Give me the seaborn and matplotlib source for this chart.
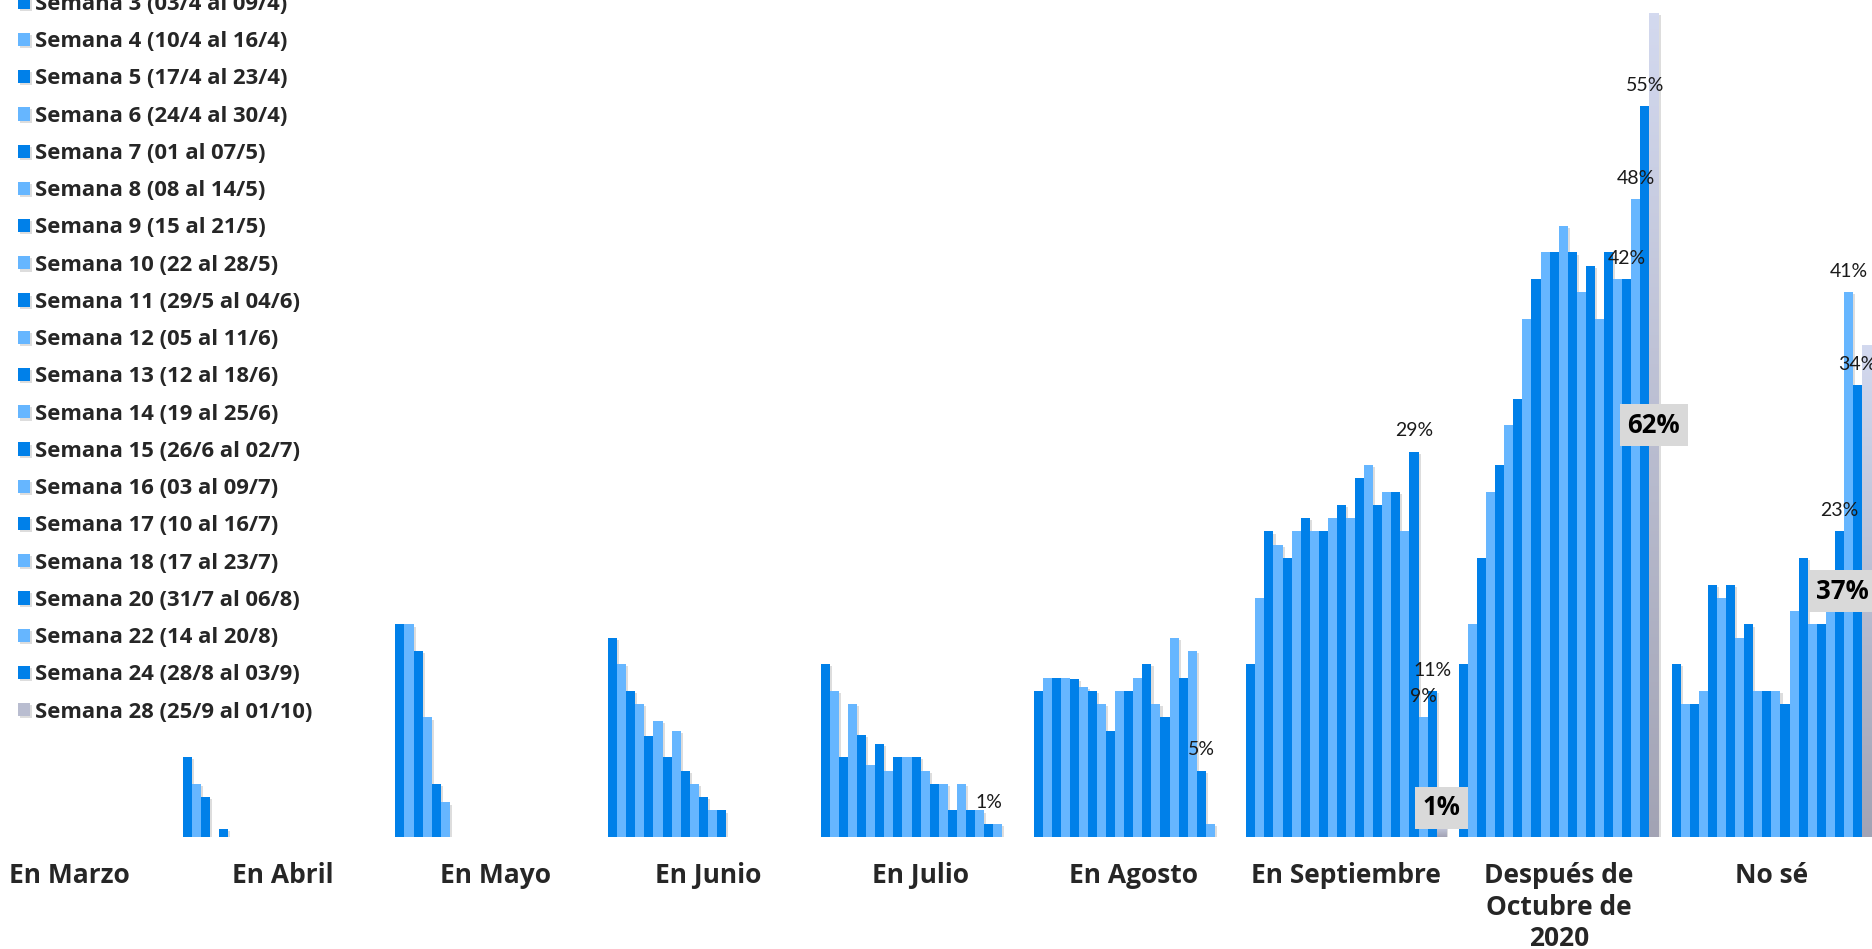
import numpy as np
import pandas as pd
import seaborn as sns
import matplotlib.pyplot as plt
import matplotlib.patheffects as pe
from matplotlib.colors import LinearSegmentedColormap

# Categorias (respuesta) y semanas de la encuesta
categorias = ["En Marzo", "En Abril", "En Mayo", "En Junio", "En Julio",
              "En Agosto", "En Septiembre", "Después de\nOctubre de\n2020", "No sé"]

semanas = ["Semana 1 (20/3 al 26/3)", "Semana 2 (27/3 al 02/4)", "Semana 3 (03/4 al 09/4)",
           "Semana 4 (10/4 al 16/4)", "Semana 5 (17/4 al 23/4)", "Semana 6 (24/4 al 30/4)",
           "Semana 7 (01 al 07/5)", "Semana 8 (08 al 14/5)", "Semana 9 (15 al 21/5)",
           "Semana 10 (22 al 28/5)", "Semana 11 (29/5 al 04/6)", "Semana 12 (05 al 11/6)",
           "Semana 13 (12 al 18/6)", "Semana 14 (19 al 25/6)", "Semana 15 (26/6 al 02/7)",
           "Semana 16 (03 al 09/7)", "Semana 17 (10 al 16/7)", "Semana 18 (17 al 23/7)",
           "Semana 20 (31/7 al 06/8)", "Semana 22 (14 al 20/8)", "Semana 24 (28/8 al 03/9)",
           "Semana 28 (25/9 al 01/10)"]

# valores (%) por categoria, una posicion por semana
en_marzo = [0, 0, 0, 0, 0, 0, 0, 0, 0, 0, 0, 0, 0, 0, 0, 0, 0, 0, 0, 0, 0, 0]
en_abril = [6, 4, 3, 0, 0.6, 0, 0, 0, 0, 0, 0, 0, 0, 0, 0, 0, 0, 0, 0, 0, 0, 0]
en_mayo = [16, 16, 14, 9, 4, 2.6, 0, 0, 0, 0, 0, 0, 0, 0, 0, 0, 0, 0, 0, 0, 0, 0]
en_junio = [15, 13, 11, 10, 7.6, 8.7, 6, 8, 5, 4, 3, 2, 2, 0, 0, 0, 0, 0, 0, 0, 0, 0]
en_julio = [13, 11, 6, 10, 7.7, 5.4, 7, 5, 6, 6, 6, 5, 4, 4, 2, 4, 2, 2, 1, 1, 0, 0]
en_agosto = [11, 12, 12, 12, 11.9, 11.3, 11, 10, 8, 11, 11, 12, 13, 10, 9, 15, 12, 14, 5, 1, 0, 0]
en_septiembre = [13, 18, 23, 22, 21, 23, 24, 23, 23, 24, 25, 24, 27, 28, 25, 26, 26, 23, 29, 9, 11, 1]
despues_octubre = [13, 16, 21, 26, 28, 31, 33, 39, 42, 44, 44, 46, 44, 41, 43, 39, 44, 42, 42, 48, 55, 62]
no_se = [13, 10, 10, 11, 19, 18, 19, 15, 16, 11, 11, 11, 10, 17, 21, 16, 16, 17, 23, 41, 34, 37]

# etiquetas que se muestran (indice de semana)
etiquetas_normales = {4: [18], 5: [18], 6: [18, 19, 20], 7: [18, 19, 20], 8: [18, 19, 20]}
etiquetas_destacadas = {6: [21], 7: [21], 8: [21]}

todos = [en_marzo, en_abril, en_mayo, en_junio, en_julio, en_agosto,
         en_septiembre, despues_octubre, no_se]
rows = []
for cat, vals in zip(categorias, todos):
    for sem, v in zip(semanas, vals):
        rows.append({"categoria": cat, "semana": sem, "valor": v})
df = pd.DataFrame(rows)

oscuro = "#0080E9"
claro = "#66B6FF"
gris = "#B9BDD0"
palette = [oscuro if i % 2 == 0 else claro for i in range(len(semanas) - 1)] + [gris]

sns.set_style("white")
plt.rcParams['font.family'] = ['Open Sans', 'DejaVu Sans']

fig = plt.figure(figsize=(18.72, 9.49), dpi=100)
ax = fig.add_axes([0, 112 / 949, 1, 837 / 949])

sns.barplot(data=df, x="categoria", y="valor", hue="semana", order=categorias,
            hue_order=semanas, palette=palette, saturation=1, width=0.938,
            linewidth=0, legend=False, ax=ax)

xlim = (-0.328, 8.473)
ylim = (0, 63.0)

# sombra suave en las barras
for p in ax.patches:
    p.set_path_effects([pe.SimplePatchShadow(offset=(1.5, -1.5), shadow_rgbFace="#7a7a7a", alpha=0.25),
                        pe.Normal()])

# degradado de la ultima semana
cmap_gris = LinearSegmentedColormap.from_list("gris", ["#A2A3B4", "#D3D9EF"])
grad = np.linspace(1, 0, 256).reshape(-1, 1)
for bar in ax.containers[-1]:
    h = bar.get_height()
    if h > 0:
        x0 = bar.get_x()
        im = ax.imshow(grad, cmap=cmap_gris, extent=[x0, x0 + bar.get_width(), 0, h],
                       aspect="auto", origin="upper", zorder=bar.get_zorder() + 0.1)
        im.set_clip_path(bar)

# etiquetas de datos
for ci, idxs in etiquetas_normales.items():
    for si in idxs:
        bar = ax.containers[si][ci]
        v = todos[ci][si]
        ax.annotate(f"{v:.0f}%", (bar.get_x() + bar.get_width() / 2, bar.get_height()),
                    xytext=(0, 11), textcoords="offset points", ha="center", va="baseline",
                    fontsize=14, family=["Lato", "DejaVu Sans"], fontweight="normal",
                    color="#1a1a1a", zorder=5)

for ci, idxs in etiquetas_destacadas.items():
    for si in idxs:
        bar = ax.containers[si][ci]
        v = todos[ci][si]
        cx = min(bar.get_x() + bar.get_width() / 2, xlim[1] - 0.14)
        cy = max(v / 2, 2.2)
        ax.text(cx, cy, f"{v:.0f}%", ha="center", va="center", fontsize=18.5,
                fontweight="bold", color="black", zorder=6,
                bbox=dict(boxstyle="square,pad=0.3", fc="#D9D9D9", ec="none"))

ax.set_xlim(*xlim)
ax.set_ylim(*ylim)
ax.set_xlabel("")
ax.set_ylabel("")
ax.set_yticks([])
ax.set_xticks(range(len(categorias)))
ax.set_xticklabels(categorias, fontsize=19, fontweight="bold", linespacing=1.22)
ax.tick_params(axis="x", length=0, pad=18)
sns.despine(ax=ax, left=True, bottom=True)

leg = ax.legend(ax.containers, semanas, loc="lower left",
                bbox_to_anchor=(18 / 1872, 226.5 / 949), bbox_transform=fig.transFigure,
                frameon=False, borderpad=0, borderaxespad=0, fontsize=15.8,
                handlelength=0.55, handleheight=0.55, handletextpad=0.23,
                labelspacing=0.74)
for t in leg.get_texts():
    t.set_fontweight("bold")

fig.savefig("out.png", dpi=100)
